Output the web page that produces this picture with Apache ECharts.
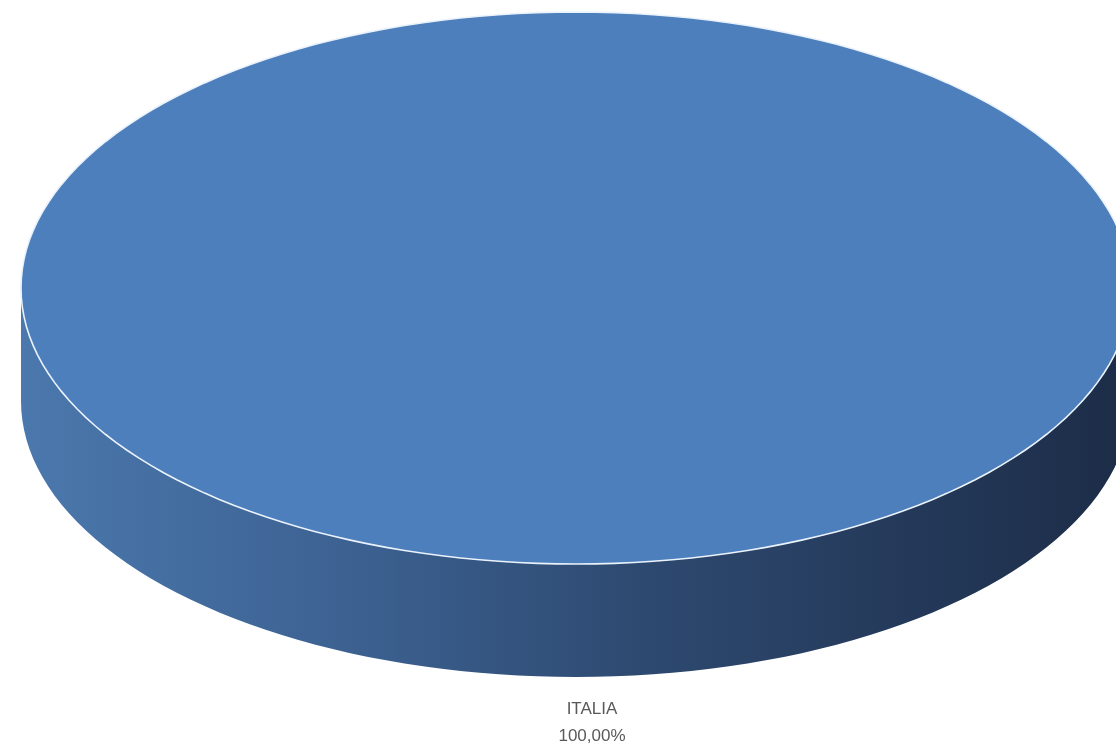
<!DOCTYPE html>
<html>
<head>
<meta charset="utf-8">
<script src="https://cdn.jsdelivr.net/npm/echarts@6/dist/echarts.min.js"></script>
<style>
  html, body { margin: 0; padding: 0; background: #fff; }
  #chart { width: 1116px; height: 754px; }
</style>
</head>
<body>
<div id="chart"></div>
<script>
// dati del grafico
const categories = ['ITALIA'];
const values = [100];
const topColors = ['#4d7fbc'];

const total = values.reduce((a, b) => a + b, 0);

// geometria della "torta 3D" (ellisse vista in prospettiva)
const geo = { cx: 576, cy: 288, rx: 555, ry: 276, depth: 113, steps: 180 };

function pt(theta, dy) {
    // theta = 0 a ore 12, senso orario
    return [geo.cx + geo.rx * Math.sin(theta), geo.cy - geo.ry * Math.cos(theta) + (dy || 0)];
}

function arc(a0, a1, dy) {
    let pts = [];
    let n = Math.max(2, Math.ceil(geo.steps * (a1 - a0) / (2 * Math.PI)));
    for (let i = 0; i <= n; i++) {
        pts.push(pt(a0 + (a1 - a0) * i / n, dy));
    }
    return pts;
}

function fmtPct(v) {
    return (v / total * 100).toFixed(2).replace('.', ',') + '%';
}

function renderItem(params, api) {
    let idx = params.dataIndex;
    let before = 0;
    for (let i = 0; i < idx; i++) before += values[i];
    let v = api.value(0);
    let a0 = before / total * 2 * Math.PI;
    let a1 = (before + v) / total * 2 * Math.PI;
    let full = v >= total;
    let children = [];

    // parete laterale: solo la parte frontale (tra ore 3 e ore 9)
    let s = Math.max(a0, Math.PI / 2), e = Math.min(a1, Math.PI * 3 / 2);
    if (e > s) {
        let upper = arc(s, e, 0);
        let lower = arc(s, e, geo.depth).reverse();
        children.push({
            type: 'polygon',
            shape: { points: upper.concat(lower) },
            style: {
                fill: new echarts.graphic.LinearGradient(geo.cx - geo.rx, 0, geo.cx + geo.rx, 0, [
                    { offset: 0, color: '#4b78ad' },
                    { offset: 0.3, color: '#3c6191' },
                    { offset: 0.55, color: '#2e4a71' },
                    { offset: 1, color: '#1c2c47' }
                ], true)
            }
        });
    }

    // faccia superiore
    let topPts = full ? arc(0, 2 * Math.PI, 0) : [[geo.cx, geo.cy]].concat(arc(a0, a1, 0));
    children.push({
        type: 'polygon',
        shape: { points: topPts },
        style: { fill: topColors[idx % topColors.length], stroke: '#eaf2fb', lineWidth: 1.6 }
    });

    // etichetta sotto la fetta
    let mid = (a0 + a1) / 2;
    let lp = pt(mid, geo.depth);
    children.push({
        type: 'text',
        style: {
            text: categories[idx] + '\n' + fmtPct(v),
            x: lp[0] + 16,
            y: lp[1] + 19,
            align: 'center',
            verticalAlign: 'top',
            fill: '#595959',
            fontSize: 17,
            lineHeight: 27,
            fontFamily: 'Liberation Sans'
        }
    });

    return { type: 'group', children: children };
}

let chart = echarts.init(document.getElementById('chart'));
chart.setOption({
    animation: false,
    backgroundColor: '#ffffff',
    series: [{
        type: 'custom',
        coordinateSystem: 'none',
        renderItem: renderItem,
        data: values.map((v, i) => ({ name: categories[i], value: v }))
    }]
});
</script>
</body>
</html>
